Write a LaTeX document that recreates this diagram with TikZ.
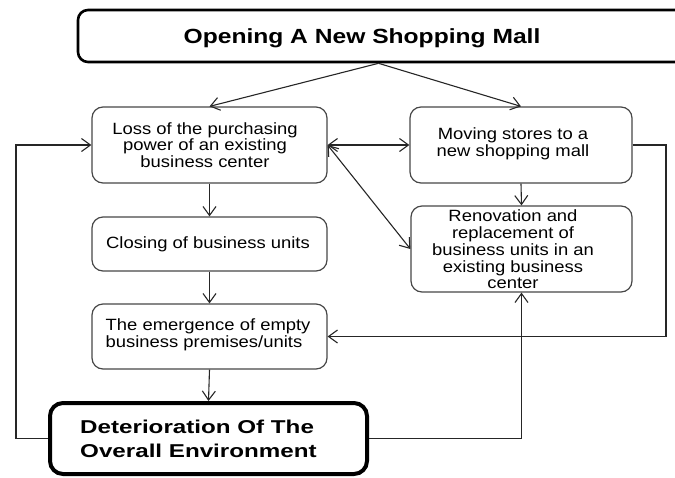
\documentclass[tikz,border=0pt]{standalone}
\usepackage{fontspec}
\setmainfont{Liberation Sans}[FakeStretch=1.13]
\newfontfamily\headfont{Liberation Sans}[FakeStretch=1.2]
\newfontfamily\basefont{Liberation Sans}[FakeStretch=1.3]
\usetikzlibrary{arrows.meta,calc}
\begin{document}
\begin{tikzpicture}[x=1pt,y=-1pt,
  box/.style={draw=black!72, line width=1.2pt, rounded corners=11pt, inner sep=0pt},
  txt/.style={inner sep=0pt, align=center, font=\fontsize{16.3}{16.7}\selectfont},
  tip/.tip={Straight Barb[length=9pt,width=13pt,line width=1.1pt]},
  link/.style={draw=black!85, line width=1.1pt, -tip},
  twoway/.style={draw=black!85, line width=1.1pt, tip-tip}]
\useasboundingbox (0,0) rectangle (675,477);

% boxes (the heading box runs past the right edge of the page)
\node[box, draw=black, line width=2.6pt, rounded corners=10pt,
      minimum width=622pt, minimum height=52pt] (top) at (389,36) {};
\node[box, minimum width=235pt, minimum height=76pt] (l1) at (209.5,145) {};
\node[box, minimum width=222pt, minimum height=76pt] (r1) at (521,145) {};
\node[box, minimum width=235pt, minimum height=54pt] (l2) at (209.5,244) {};
\node[box, minimum width=221pt, minimum height=86pt] (r2) at (521.5,249) {};
\node[box, minimum width=235pt, minimum height=65pt] (l3) at (209.5,336.5) {};
\node[box, draw=black, line width=4pt, rounded corners=13pt,
      minimum width=317pt, minimum height=71pt] (l4) at (208.5,438.5) {};

% texts
\node[inner sep=0pt, anchor=base, font=\headfont\bfseries\fontsize{20.5}{24}\selectfont]
  (toptext) at (362,43.7) {Opening A New Shopping Mall};
\node[txt] (l1text) at (205,145) {Loss of the purchasing\\power of an existing\\business center};
\node[txt] (r1text) at (513,144) {Moving stores to a\\new shopping mall};
\node[txt] (l2text) at (208,244) {Closing of business units};
\node[txt] (r2text) at (513,249.5) {Renovation and\\replacement of\\business units in an\\existing business\\center};
\node[txt, align=left, anchor=west] (l3text) at (105.5,335) {The emergence of empty\\business premises/units};
\node[inner sep=0pt, align=left, anchor=west,
      font=\basefont\bfseries\fontsize{18.6}{24}\selectfont]
  (l4text) at (80,439) {Deterioration Of The\\Overall Environment};

% turning points of the feedback loops
\coordinate (lb) at (16,438.5);
\coordinate (rb) at (666,145);

% connectors
\draw[link] ([xshift=-10.5pt]top.south) -- (l1.north);
\draw[link] ([xshift=-10.5pt]top.south) -- (r1.north);
\draw[twoway] (l1.east) -- (r1.west);
\draw[twoway] (l1.east) -- (r2.west);
\draw[link] (r1.south) -- (r2.north);
\draw[link] (l1.south) -- (l2.north);
\draw[link] (l2.south) -- (l3.north);
\draw[link] (l3.south) -- (l4.north);
\draw[link] (l4.west) -- (lb) |- (l1.west);
\draw[link] (l4.east) -| (r2.south);
\draw[link] (r1.east) -- (rb) |- (l3.east);
\end{tikzpicture}
\end{document}
